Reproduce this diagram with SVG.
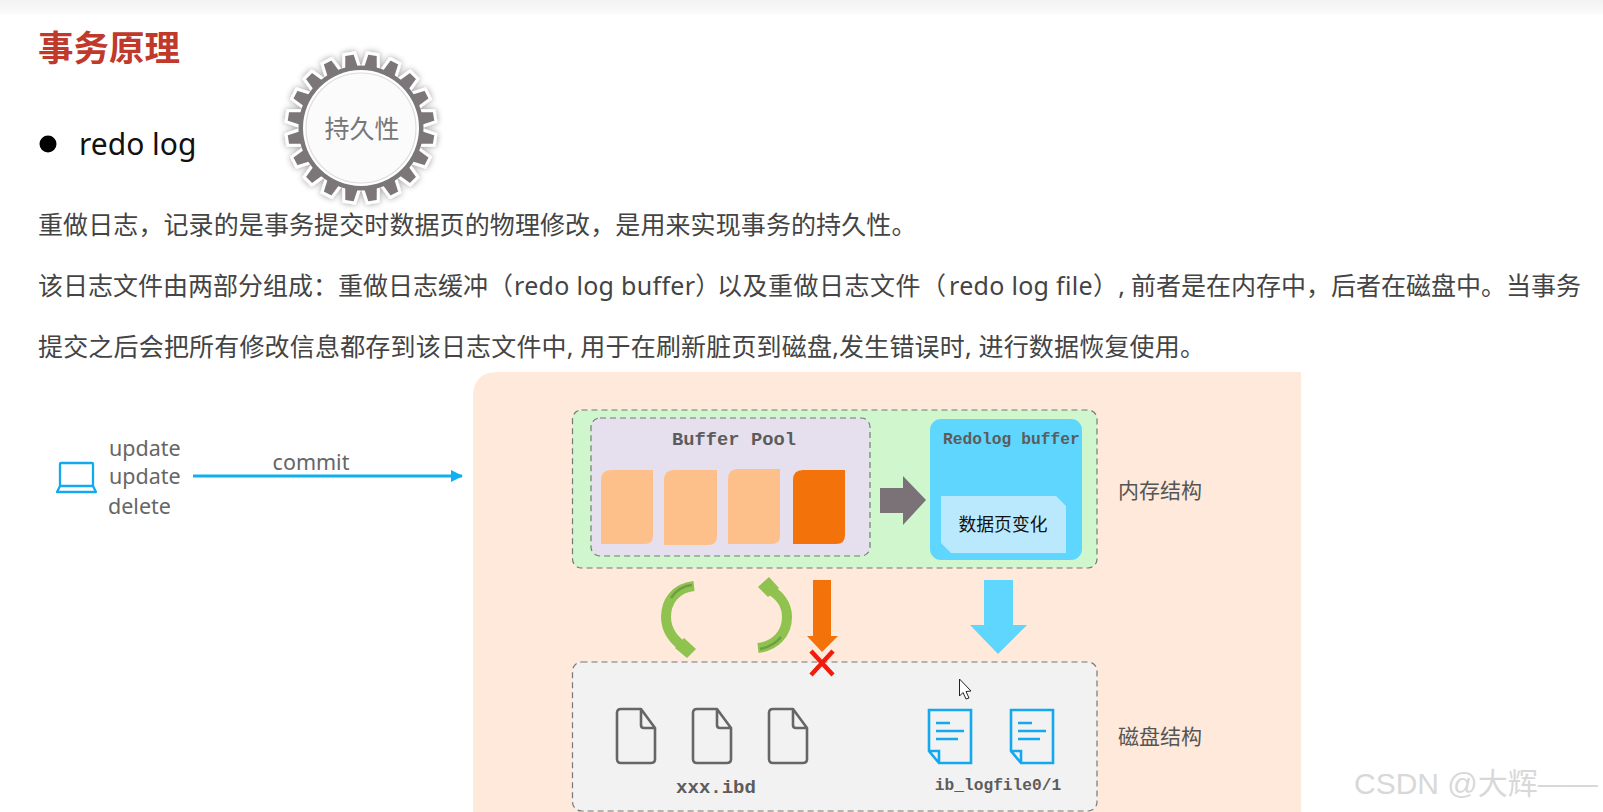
<svg xmlns="http://www.w3.org/2000/svg" width="1603" height="812" viewBox="0 0 1603 812">
<defs>
<linearGradient id="top" x1="0" y1="0" x2="0" y2="1"><stop offset="0" stop-color="#f2f2f2"/><stop offset="1" stop-color="#fbfbfb"/></linearGradient>
<filter id="gs" x="-20%" y="-20%" width="140%" height="140%"><feDropShadow dx="0" dy="0" stdDeviation="3" flood-color="#000" flood-opacity=".4"/></filter>
<marker id="ah" viewBox="0 0 12 12" refX="11" refY="6" markerWidth="12" markerHeight="12" markerUnits="userSpaceOnUse" orient="auto"><path d="M0 0L12 6L0 12Z" fill="#0eb0f2"/></marker>
<path id="doc" d="M4 0H24L38 19V50Q38 54 34 54H4Q0 54 0 50V4Q0 0 4 0ZM24 0V16Q24 19 27 19H38" fill="none" stroke="#666" stroke-width="2.6" stroke-linejoin="round"/>
<path id="log" d="M1 1H43V54H11L1 42ZM1 42H11V54M8 14H22M8 22H36M8 30H30" fill="none" stroke="#14a9ee" stroke-width="2.6"/>
<path id="tooth" d="M-8 -60L-5.500 -75H5.500L8 -60Z" fill="#7b7679" stroke="#fff" stroke-width="3" stroke-linejoin="round"/>
</defs>
<style>
text{font-family:"Noto Sans","Noto Sans CJK SC",sans-serif}
.body{font-size:25px;fill:#444}
.dash{stroke:#777;stroke-width:1.2;stroke-dasharray:6 4}
.side{font-size:21px;fill:#555}
.cmd{font-size:21.5px;fill:#666}
.mono{font-family:"Liberation Mono",monospace;fill:#5c5c5c}
.pg{fill:#fec08b}
.green{fill:none;stroke:#8fc24f;stroke-width:10}
.stripe{fill:none;stroke:#6f9e45;stroke-width:2.500}
.greenh{fill:#8fc24f}
</style>
<rect width="1603" height="812" fill="#fff"/>
<rect width="1603" height="14" fill="url(#top)"/>
<text x="38" y="61" font-size="35.500" font-weight="700" fill="#c0392b">事务原理</text>
<circle cx="48" cy="144" r="8.5" fill="#000"/>
<text x="79" y="155" font-size="30" fill="#111">redo log</text>
<g id="gear">
<g filter="url(#gs)">
<g transform="translate(361 128)">
<use href="#tooth" transform="rotate(9)"/><use href="#tooth" transform="rotate(27)"/><use href="#tooth" transform="rotate(45)"/><use href="#tooth" transform="rotate(63)"/><use href="#tooth" transform="rotate(81)"/><use href="#tooth" transform="rotate(99)"/><use href="#tooth" transform="rotate(117)"/><use href="#tooth" transform="rotate(135)"/><use href="#tooth" transform="rotate(153)"/><use href="#tooth" transform="rotate(171)"/><use href="#tooth" transform="rotate(189)"/><use href="#tooth" transform="rotate(207)"/><use href="#tooth" transform="rotate(225)"/><use href="#tooth" transform="rotate(243)"/><use href="#tooth" transform="rotate(261)"/><use href="#tooth" transform="rotate(279)"/><use href="#tooth" transform="rotate(297)"/><use href="#tooth" transform="rotate(315)"/><use href="#tooth" transform="rotate(333)"/><use href="#tooth" transform="rotate(351)"/>
</g>
</g>
<circle cx="361" cy="128" r="62.500" fill="#7b7679"/>
<circle cx="361" cy="128" r="58" fill="#fff"/>
<circle cx="361" cy="128" r="55" fill="#fbfbfb" stroke="#dcdcdc" stroke-width="1.200"/>
<text x="362" y="138" font-size="25" fill="#777" text-anchor="middle">持久性</text>
</g>
<text class="body" x="38" y="234" letter-spacing=".1">重做日志，记录的是事务提交时数据页的物理修改，是用来实现事务的持久性。</text>
<text class="body" x="38" y="295">该日志文件由两部分组成：重做日志缓冲（<tspan x="514" letter-spacing=".3">redo log buffer）</tspan><tspan x="717" letter-spacing=".5">以及重做日志文件（</tspan><tspan x="949" letter-spacing=".3">redo log file）,</tspan><tspan x="1131">前者是在内存中，后者在磁盘中。当事务</tspan></text>
<text class="body" x="38" y="356" letter-spacing=".18">提交之后会把所有修改信息都存到该日志文件中, 用于在刷新脏页到磁盘,发生错误时, 进行数据恢复使用。</text>
<g id="client">
<path d="M60 464Q60 463 61 463H92Q93 463 93 464V486H60ZM60 486L57 492H96L93 486" fill="none" stroke="#14a9ee" stroke-width="2.300" stroke-linejoin="round"/>
<text class="cmd" x="109" y="456">update</text>
<text class="cmd" x="109" y="484">update</text>
<text class="cmd" x="108" y="514">delete</text>
</g>
<g id="connectors">
<line x1="193" y1="476" x2="462" y2="476" stroke="#0eb0f2" stroke-width="3" marker-end="url(#ah)"/>
<text class="cmd" x="311" y="470" text-anchor="middle">commit</text>
</g>
<path id="bg" d="M1301 372V812H473V397Q473 372 498 372Z" fill="#fee9da"/>
<g id="memory">
<rect x="572.5" y="410" width="524.500" height="158" rx="9" fill="#cff6cd" class="dash"/>
<text class="side" x="1118" y="498">内存结构</text>
</g>
<g id="bufferpool">
<rect x="591" y="418" width="279" height="138" rx="9" fill="#e6e0ee" class="dash"/>
<text class="mono" x="734" y="445" font-size="18.8" font-weight="700" text-anchor="middle">Buffer Pool</text>
<path class="pg" d="M611 470H653V536Q653 544 645 544H601V480Q601 470 611 470Z"/>
<path class="pg" d="M674 470H717V536Q717 545 708 545H664V480Q664 470 674 470Z"/>
<path class="pg" d="M738 469H780V536Q780 544 772 544H728V479Q728 469 738 469Z"/>
<path fill="#f37209" d="M803 470H845V535Q845 544 836 544H793V480Q793 470 803 470Z"/>
</g>
<g id="redobuffer">
<rect x="930" y="419" width="152" height="141" rx="11" fill="#5fd6fd"/>
<text class="mono" x="943" y="444" font-size="16.300" font-weight="700">Redolog buffer</text>
<path d="M941 496H1056L1066 506V553H951L941 543Z" fill="#bae9fe"/>
<text x="1003" y="531" font-size="17.800" fill="#111" text-anchor="middle">数据页变化</text>
</g>
<g id="flow">
<path fill="#7a7276" d="M880 488H903V476L926 500L903 525V513H880Z"/>
<path fill="#5fd6fd" d="M984 580H1013V625H1027L998 654L970 625H984Z"/>
<path fill="#f37209" d="M813 580H831V636H838L822 652L807 636H813Z"/>
<path class="green" d="M694 586C675 588 666 602 666 617C666 632 675 642 688 650"/>
<path class="stripe" d="M692 585C682 586 675 592 671 598"/>
<path class="greenh" d="M684 638L696 649L687 658L675 648Z"/>
<path class="green" d="M758 648C775 646 787 634 787 617C787 604 779 594 767 588"/>
<path class="stripe" d="M760 649C770 647 776 643 781 637"/>
<path class="greenh" d="M758 587L769 577L779 588L768 597Z"/>
</g>
<g id="disk">
<rect x="572.5" y="662" width="524.500" height="149" rx="9" fill="#f2f2f2" class="dash"/>
<text class="side" x="1118" y="744">磁盘结构</text>
<use href="#doc" x="617" y="709"/>
<use href="#doc" x="693" y="709"/>
<use href="#doc" x="769" y="709"/>
<use href="#log" x="928" y="709"/>
<use href="#log" x="1010" y="709"/>
<text class="mono" x="716" y="793" font-size="19" font-weight="700" text-anchor="middle">xxx.ibd</text>
<text class="mono" x="998" y="790" font-size="16.200" text-anchor="middle" font-weight="700">ib_logfile0/1</text>
</g>
<path id="cross" d="M811 651L833 675M833 651L811 675" stroke="#f21c0c" stroke-width="4.500" fill="none"/>
<path id="cursor" d="M959.500 679V696L963 692.500L966 699L969 698L966 691.500L971 691Z" fill="#fff" stroke="#222" stroke-width="1"/>
<text id="watermark" x="1354" y="794" font-size="30" fill="#d8d8d8" style="font-family:'Liberation Sans','Noto Sans CJK SC',sans-serif">CSDN @大辉——</text>
</svg>
